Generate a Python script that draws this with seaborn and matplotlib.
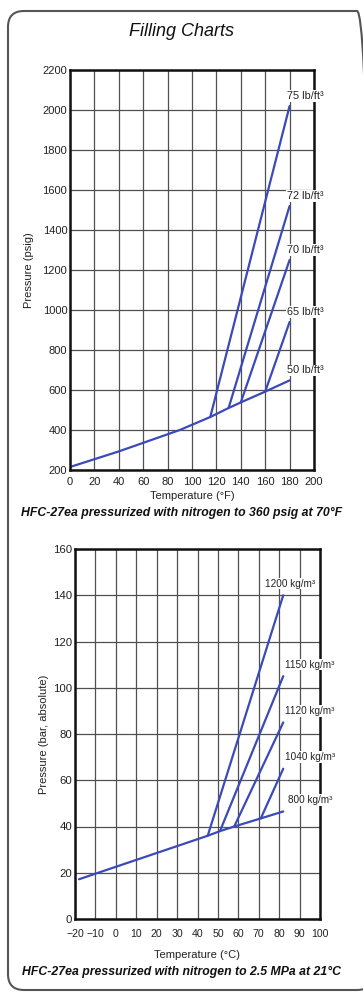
import pandas as pd
import matplotlib.pyplot as plt
import matplotlib.transforms as mtransforms
from matplotlib.patches import FancyBboxPatch
from matplotlib.ticker import MultipleLocator
import seaborn as sns

# ---- data ----
# top chart (imperial)
base_f_temp = [0, 40, 90, 115, 130, 140, 160, 180]
base_f_psig = [215, 293, 400, 465, 510, 538, 592, 648]
branch_f_names = ["75 lb/ft³", "72 lb/ft³", "70 lb/ft³", "65 lb/ft³"]
branch_f_start_temp = [115, 130, 140, 160]
branch_f_start_psig = [465, 510, 538, 592]
branch_f_end_temp = [180, 180, 180, 180]
branch_f_end_psig = [2020, 1520, 1250, 940]
base_f_name = "50 lb/ft³"

# bottom chart (metric)
base_c_temp = [-18, 45, 51, 58, 71, 82]
base_c_bar = [17.2, 36, 38, 40, 43.5, 46.5]
branch_c_names = ["1200 kg/m³", "1150 kg/m³", "1120 kg/m³", "1040 kg/m³"]
branch_c_start_temp = [45, 51, 58, 71]
branch_c_start_bar = [36, 38, 40, 43.5]
branch_c_end_temp = [82, 82, 82, 82]
branch_c_end_bar = [140, 105, 85, 65]
base_c_name = "800 kg/m³"
xticks_c = [-20, -10, 0, 10, 20, 30, 40, 50, 60, 70, 80, 90, 100]

line_color = "#3a4ab8"
grid_color = "#505050"

sns.set_style("white")
plt.rcParams['font.family'] = ['Liberation Sans', 'DejaVu Sans']


def build_df(base_t, base_p, base_name, names, st, sp, et, ep):
    rows = [{"temp": t, "pres": p, "curve": base_name} for t, p in zip(base_t, base_p)]
    for n, a, b, c, d in zip(names, st, sp, et, ep):
        rows.append({"temp": a, "pres": b, "curve": n})
        rows.append({"temp": c, "pres": d, "curve": n})
    return pd.DataFrame(rows)


def style_axes(ax):
    ax.grid(True, which="major", color=grid_color, linewidth=0.9)
    ax.set_axisbelow(True)
    for s in ax.spines.values():
        s.set_visible(True)
        s.set_color("#111111")
        s.set_linewidth(1.8)
    ax.tick_params(which="major", direction="in", length=0)
    ax.tick_params(which="minor", direction="in", length=3, width=0.8,
                   color="#222222", top=False, right=False)


fig = plt.figure(figsize=(3.63, 9.94), dpi=100)

# rounded frame around everything
frame = FancyBboxPatch((8, 4), 365, 979, boxstyle="round,pad=0,rounding_size=16",
                       transform=mtransforms.IdentityTransform(),
                       facecolor="none", edgecolor="#555555", linewidth=1.5, zorder=-1)
fig.patches.append(frame)

fig.text(0.5, 1 - 32 / 994, "Filling Charts", ha="center", va="center",
         fontsize=13, style="italic", color="#111111")

# ---------------- top chart ----------------
ax1 = fig.add_axes([70 / 363, 1 - 470 / 994, 244 / 363, 400 / 994])
df_f = build_df(base_f_temp, base_f_psig, base_f_name, branch_f_names,
                branch_f_start_temp, branch_f_start_psig, branch_f_end_temp, branch_f_end_psig)
sns.lineplot(data=df_f, x="temp", y="pres", units="curve", estimator=None, sort=False,
             color=line_color, linewidth=1.6, ax=ax1)
ax1.set_xlim(0, 200)
ax1.set_ylim(200, 2200)
ax1.xaxis.set_major_locator(MultipleLocator(20))
ax1.xaxis.set_minor_locator(MultipleLocator(2))
ax1.yaxis.set_major_locator(MultipleLocator(200))
ax1.yaxis.set_minor_locator(MultipleLocator(20))
style_axes(ax1)
ax1.tick_params(axis="x", pad=5)
ax1.tick_params(axis="y", pad=2)
ax1.tick_params(labelsize=8, colors="#222222")
ax1.set_xlabel("Temperature (°F)", fontsize=8, labelpad=3, color="#222222")
ax1.set_ylabel("Pressure (psig)", fontsize=8, labelpad=6, color="#222222")

for n, t, p in zip(branch_f_names + [base_f_name],
                   branch_f_end_temp + [base_f_temp[-1]],
                   branch_f_end_psig + [base_f_psig[-1]]):
    ax1.text(t - 2, p + 50, n, ha="left", va="center", fontsize=7.8, color="#222222",
             clip_on=False, bbox=dict(facecolor="white", edgecolor="none", pad=0.6))

fig.text(0.5, 1 - 513 / 994, "HFC-27ea pressurized with nitrogen to 360 psig at 70°F",
         ha="center", va="center", fontsize=8.8, weight="bold", style="italic", color="#111111")

# ---------------- bottom chart ----------------
ax2 = fig.add_axes([75 / 363, 1 - 919 / 994, 245 / 363, 370 / 994])
df_c = build_df(base_c_temp, base_c_bar, base_c_name, branch_c_names,
                branch_c_start_temp, branch_c_start_bar, branch_c_end_temp, branch_c_end_bar)
sns.lineplot(data=df_c, x="temp", y="pres", units="curve", estimator=None, sort=False,
             color=line_color, linewidth=1.6, ax=ax2)
ax2.set_ylim(0, 160)
ax2.set_xticks(xticks_c)
ax2.set_xticklabels([("−" + str(-v)) if v < 0 else str(v) for v in xticks_c])
ax2.set_xlim(-20, 100)
ax2.xaxis.set_minor_locator(MultipleLocator(2))
ax2.yaxis.set_major_locator(MultipleLocator(20))
ax2.yaxis.set_minor_locator(MultipleLocator(5))
style_axes(ax2)
ax2.tick_params(axis="x", pad=7, labelsize=7.6)
ax2.tick_params(axis="y", pad=2, labelsize=8.2)
ax2.tick_params(colors="#222222")
ax2.set_xlabel("Temperature (°C)", fontsize=8, labelpad=8, color="#222222")
ax2.set_ylabel("Pressure (bar, absolute)", fontsize=8, labelpad=3, color="#222222")

label_c_x = [73, 83, 83, 83, 84.5]
for n, x, p in zip(branch_c_names + [base_c_name], label_c_x,
                   branch_c_end_bar + [base_c_bar[-1]]):
    ax2.text(x, p + 5, n, ha="left", va="center", fontsize=7.2, color="#222222",
             clip_on=False, bbox=dict(facecolor="white", edgecolor="none", pad=0.6))

fig.text(0.5, 1 - 972 / 994, "HFC-27ea pressurized with nitrogen to 2.5 MPa at 21°C",
         ha="center", va="center", fontsize=8.8, weight="bold", style="italic", color="#111111")

fig.savefig("out.png", dpi=100)
